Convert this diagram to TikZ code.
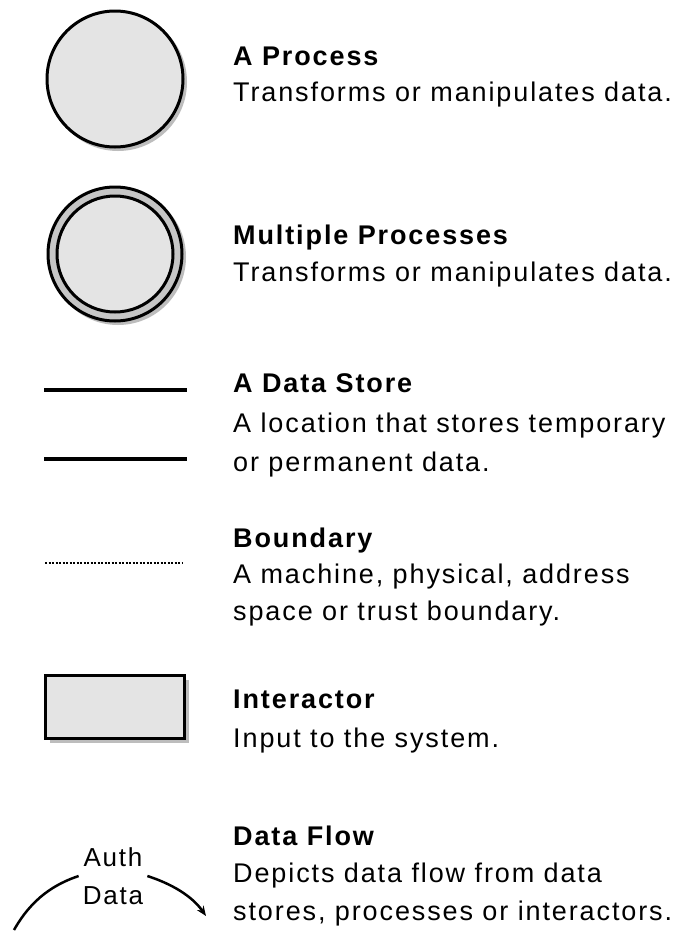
\documentclass[tikz,border=0pt]{standalone}
\usepackage{fontspec}
\setmainfont{Liberation Sans}[LetterSpace=7]
\usetikzlibrary{arrows.meta}

\definecolor{procfill}{HTML}{E4E4E4}
\definecolor{ringfill}{HTML}{C6C6C6}
\definecolor{shadowgray}{HTML}{BDBDBD}

\begin{document}
\begin{tikzpicture}[x=1pt, y=-1pt,
        head/.style={anchor=base west, inner sep=0pt, font=\fontsize{27}{30}\selectfont\bfseries},
        desc/.style={anchor=base west, inner sep=0pt, font=\fontsize{27}{30}\selectfont},
        outline/.style={draw=black, line width=3pt},
        shade/.style={fill=shadowgray, draw=none}]

        \useasboundingbox[fill=white](0, 0) rectangle (674, 932);

        % a process
        \fill[shade](118, 82) circle (69);
        \draw[outline, fill=procfill](115, 79) circle (68);
        \node[head](proc) at(233, 65){A Process};
        \node[desc](procd) at(233, 101){Transforms or manipulates data.};

        % multiple processes
        \fill[shade](118, 257) circle (68);
        \draw[outline, fill=ringfill](115, 254) circle (67);
        \draw[outline, fill=procfill](115, 254) circle (58);
        \node[head](multi) at(233, 244){Multiple Processes};
        \node[desc](multid) at(233, 281){Transforms or manipulates data.};

        % data store
        \draw[line width=4pt](44, 390) to (187, 390);
        \draw[line width=4pt](44, 459) to (187, 459);
        \node[head](store) at(233, 392){A Data Store};
        \node[desc](stored) at(233, 432){A location that stores temporary};
        \node[desc](storee) at(233, 471){or permanent data.};

        % boundary
        \draw[line width=2pt, dash pattern=on 2pt off 1.5pt](45, 563) to (183, 563);
        \node[head](bound) at(233, 547){Boundary};
        \node[desc](boundd) at(233, 583){A machine, physical, address};
        \node[desc](bounde) at(233, 620){space or trust boundary.};

        % interactor
        \fill[shade](50, 680) rectangle (189, 743);
        \draw[outline, fill=procfill](45, 675) rectangle (184, 738);
        \node[head](inter) at(233, 708){Interactor};
        \node[desc](interd) at(233, 747){Input to the system.};

        % data flow
        \coordinate (flowin) at(14, 930);
        \coordinate (flowout) at(206, 916);
        \node[align=center, inner sep=4pt, font=\fontsize{26}{38}\selectfont](authdata) at(113, 876){Auth\\Data};
        \draw[line width=2.5pt](flowin) .. controls (32, 898) and (55, 884) .. (authdata.west);
        \draw[line width=2.5pt, -{Stealth[length=10pt, width=8pt]}](authdata.east) .. controls (172, 884) and (192, 896) .. (flowout);
        \node[head](flow) at(233, 845){Data Flow};
        \node[desc](flowd) at(233, 882){Depicts data flow from data};
        \node[desc](flowe) at(233, 920){stores, processes or interactors.};

    \end{tikzpicture}
\end{document}
